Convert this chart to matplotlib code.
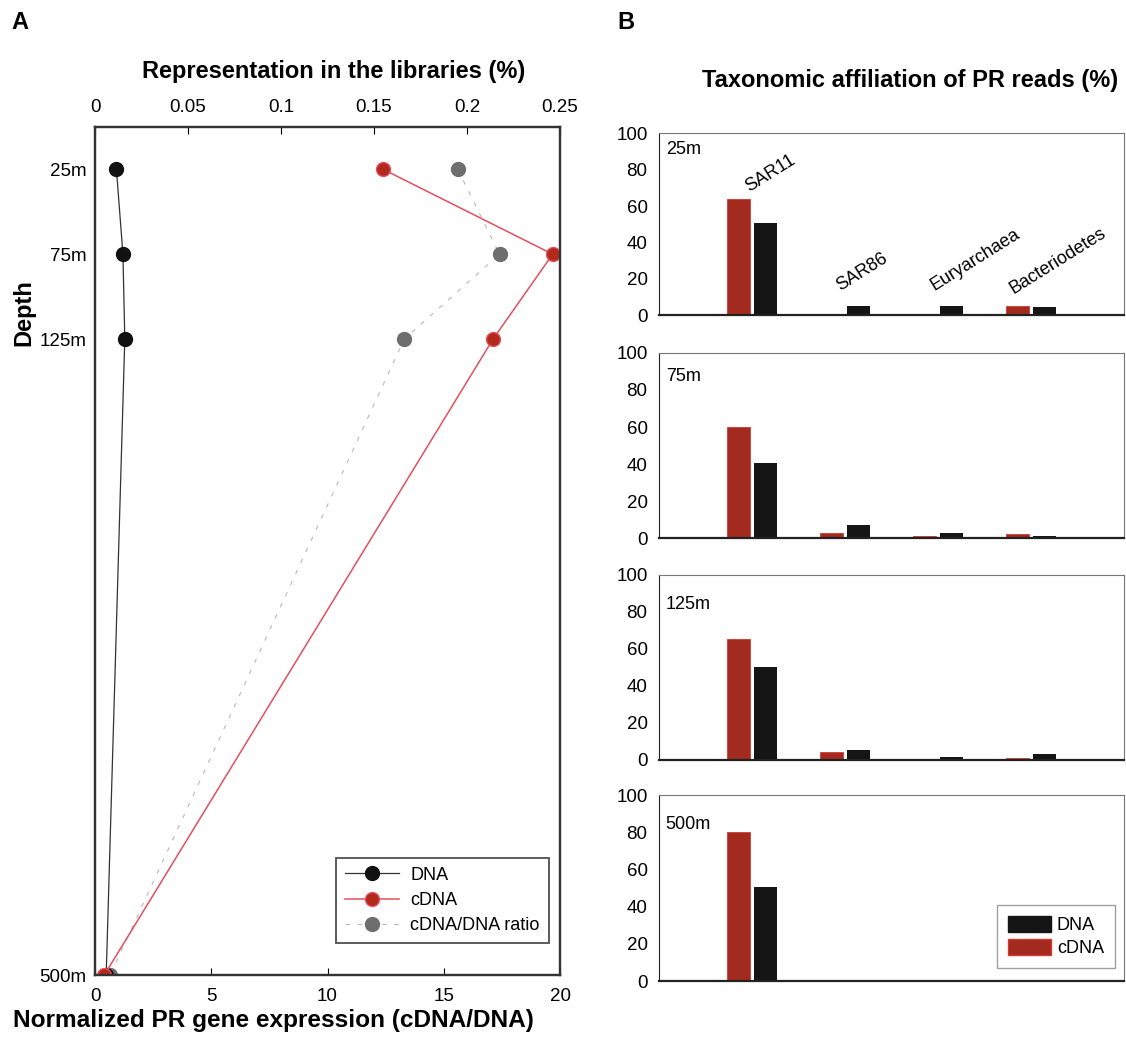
import matplotlib.pyplot as plt
from matplotlib.patches import Patch
from matplotlib.lines import Line2D

plt.rcParams['font.family'] = ['Liberation Sans', 'DejaVu Sans']

# panel A data
depths = [25, 75, 125, 500]
depth_labels = ['25m', '75m', '125m', '500m']
dna_repr = [0.0115, 0.015, 0.016, 0.006]
cdna_repr = [0.155, 0.246, 0.214, 0.005]
ratio = [15.6, 17.4, 13.3, 0.65]

# panel B data
groups = ['SAR11', 'SAR86', 'Euryarchaea', 'Bacteriodetes']
panel_depths = ['25m', '75m', '125m', '500m']
cdna_tax = [
    [64, 0, 0, 5],
    [60, 2.7, 1, 2.5],
    [65, 4.5, 0, 1],
    [80, 0, 0, 0],
]
dna_tax = [
    [51, 5, 5, 4.5],
    [40.5, 7, 3, 1],
    [50, 5.5, 1.5, 3],
    [50.5, 0, 0, 0],
]

RED_BAR = '#a32a1f'
BLACK_BAR = '#151515'
RED_LINE = '#e2505c'
RED_MK = '#b3291c'
GREY_MK = '#6e6e6e'

TICK_FS = 13.5
BIG_FS = 17

fig = plt.figure(figsize=(11.26, 10.41), dpi=100)

# ---------- panel A ----------
axA = fig.add_axes([0.0844, 0.0634, 0.413, 0.8146])
axA.plot(ratio, depths, color='#b8b8b8', lw=0.8, ls=(0, (4, 7)),
         marker='o', ms=10, mfc=GREY_MK, mec=GREY_MK)
axA.set_xlim(0, 20)
axA.set_ylim(500, 0)
axA.set_yticks(depths)
axA.set_yticklabels(depth_labels, fontsize=TICK_FS)
axA.tick_params(axis='y', length=0, pad=6)
axA.set_xticks([0, 5, 10, 15, 20])
axA.tick_params(axis='x', direction='in', length=5, labelsize=TICK_FS, pad=9)

axT = axA.twiny()
axT.plot(dna_repr, depths, color='#333333', lw=0.9, marker='o', ms=10,
         mfc='#111111', mec='#111111')
axT.plot(cdna_repr, depths, color=RED_LINE, lw=1.1, marker='o', ms=10,
         mfc=RED_MK, mec=RED_LINE)
axT.set_xlim(0, 0.25)
axT.set_ylim(500, 0)
axT.set_xticks([0, 0.05, 0.1, 0.15, 0.2, 0.25])
axT.set_xticklabels(['0', '0.05', '0.1', '0.15', '0.2', '0.25'])
axT.tick_params(axis='x', direction='in', length=5, labelsize=TICK_FS, pad=8)

for ax in (axA, axT):
    for s in ax.spines.values():
        s.set_linewidth(1.6)
        s.set_color('#333333')

handles = [
    Line2D([], [], color='#333333', lw=0.9, marker='o', ms=10, mfc='#111111', mec='#111111'),
    Line2D([], [], color=RED_LINE, lw=1.1, marker='o', ms=10, mfc=RED_MK, mec=RED_LINE),
    Line2D([], [], color='#b8b8b8', lw=0.8, ls=(0, (4, 7)), marker='o', ms=10, mfc=GREY_MK, mec=GREY_MK),
]
leg = axT.legend(handles, ['DNA', 'cDNA', 'cDNA/DNA ratio'], loc='lower right',
                 bbox_to_anchor=(0.995, 0.027), fontsize=13, frameon=True,
                 fancybox=False, edgecolor='#222222', handlelength=3.0,
                 borderpad=0.5, labelspacing=0.45, handletextpad=0.6)
leg.get_frame().set_linewidth(1.3)

fig.text(0.296, 0.931, 'Representation in the libraries (%)', ha='center', va='center',
         fontsize=BIG_FS, fontweight='bold')
fig.text(0.243, 0.020, 'Normalized PR gene expression (cDNA/DNA)', ha='center', va='center',
         fontsize=17.6, fontweight='bold')
fig.text(0.021, 0.70, 'Depth', rotation=90, ha='center', va='center',
         fontsize=BIG_FS, fontweight='bold')
fig.text(0.010, 0.978, 'A', fontsize=BIG_FS, fontweight='bold', va='center')
fig.text(0.548, 0.978, 'B', fontsize=BIG_FS, fontweight='bold', va='center')
fig.text(0.808, 0.923, 'Taxonomic affiliation of PR reads (%)', ha='center', va='center',
         fontsize=BIG_FS, fontweight='bold')

# ---------- panel B ----------
b_lefts = 0.585
b_width = 0.413
b_boxes = [(0.697, 0.175), (0.483, 0.178), (0.270, 0.178), (0.0576, 0.1785)]
label_y = [0.91, 0.87, 0.84, 0.84]
centers = [1, 2, 3, 4]
w = 0.25
for i, (bot, h) in enumerate(b_boxes):
    ax = fig.add_axes([b_lefts, bot, b_width, h])
    ax.bar([c - 0.14 for c in centers], cdna_tax[i], width=w, color=RED_BAR,
           edgecolor='#d23a30', linewidth=0.6, label='cDNA')
    ax.bar([c + 0.15 for c in centers], dna_tax[i], width=w, color=BLACK_BAR,
           label='DNA')
    ax.set_xlim(0, 5)
    ax.set_ylim(0, 100)
    ax.set_yticks([0, 20, 40, 60, 80, 100])
    ax.tick_params(axis='y', length=0, labelsize=TICK_FS, pad=8)
    ax.set_xticks([])
    for s in ax.spines.values():
        s.set_linewidth(0.8)
        s.set_color('#777777')
    ax.spines['bottom'].set_linewidth(1.6)
    ax.spines['bottom'].set_color('#222222')
    ax.spines['left'].set_color('#222222')
    ax.text(0.015, label_y[i], panel_depths[i], transform=ax.transAxes, fontsize=13,
            ha='left', va='center')
    if i == 0:
        label_pos = [(1.0, 66), (1.97, 11.5), (2.99, 11.5), (3.84, 10)]
        for g, (x, y) in zip(groups, label_pos):
            ax.text(x, y, g, rotation=32, rotation_mode='anchor', ha='left',
                    va='bottom', fontsize=13)
    if i == 3:
        hs = [Patch(color=BLACK_BAR), Patch(facecolor=RED_BAR, edgecolor='#d23a30')]
        lg = ax.legend(hs, ['DNA', 'cDNA'], loc='lower right', bbox_to_anchor=(1.0, 0.02),
                       fontsize=13, fancybox=False, edgecolor='#888888',
                       handlelength=2.4, handleheight=1.0, labelspacing=0.3,
                       borderpad=0.6, handletextpad=0.3)
        lg.get_frame().set_linewidth(1.0)

fig.savefig('out.png', dpi=100)
